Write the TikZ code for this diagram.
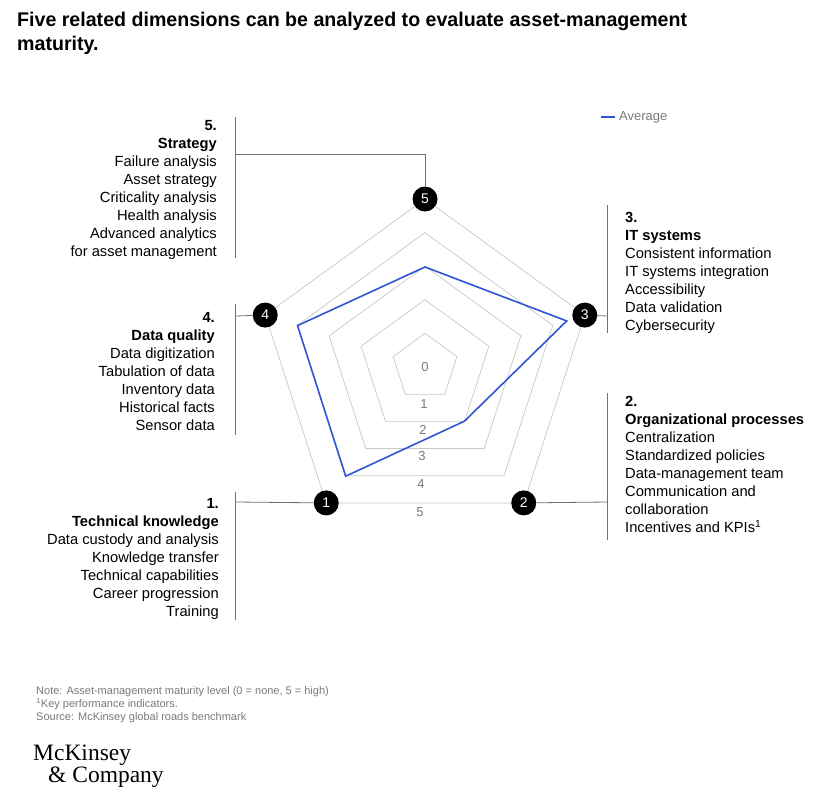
\documentclass[tikz,border=0pt]{standalone}
\usepackage{fontspec}
\usetikzlibrary{calc}
\setmainfont{Liberation Sans}
\newfontfamily\logofont{Liberation Serif}
\definecolor{avg}{HTML}{2F55D4}
\definecolor{grid}{HTML}{C8C8C8}
\definecolor{lead}{HTML}{707070}
\definecolor{note}{HTML}{7A7A7A}
\begin{document}
\begin{tikzpicture}[x=1pt,y=-1pt,
  body/.style={font=\fontsize{14.7}{18}\selectfont,inner sep=0pt,anchor=north},
  axisdot/.style={circle,fill=black,minimum size=25pt,inner sep=0pt,text=white,font=\fontsize{14}{14}\selectfont},
  lvl/.style={text=note,font=\fontsize{13}{13}\selectfont,inner sep=0pt},
  leader/.style={draw=lead,line width=0.8pt},
  gridline/.style={draw=grid,line width=0.7pt}]
\useasboundingbox (0,0) rectangle (835,803);
\fill[white] (0,0) rectangle (835,803);
\coordinate (c) at (425,367);
% title
\node[anchor=north west,inner sep=0pt,align=left,font=\bfseries\fontsize{19.8}{24}\selectfont,xscale=0.99] (title) at (17,12) {Five related dimensions can be analyzed to evaluate asset-management\\maturity.};
% grid
\foreach \k in {1,...,5}{
  \draw[gridline] ($(c)+(-90:33.6*\k)$) -- ($(c)+(-18:33.6*\k)$) -- ($(c)+(54:33.6*\k)$) -- ($(c)+(126:33.6*\k)$) -- ($(c)+(198:33.6*\k)$) -- cycle;
}
% level labels
\node[lvl] (l0) at (425,367) {0};
\node[lvl] (l1) at (424,404) {1};
\node[lvl] (l2) at (423,430) {2};
\node[lvl] (l3) at (422,456) {3};
\node[lvl] (l4) at (421,484) {4};
\node[lvl] (l5) at (420,512) {5};
% average
\draw[avg,line width=1.6pt,line join=miter] ($(c)+(-90:100)$) -- ($(c)+(-18:149)$) -- ($(c)+(54:67)$) -- ($(c)+(126:135)$) -- ($(c)+(198:134)$) -- cycle;
% axis dots
\node[axisdot] (d5) at ($(c)+(-90:168)$) {5};
\node[axisdot] (d3) at ($(c)+(-18:168)$) {3};
\node[axisdot] (d2) at ($(c)+(54:168)$) {2};
\node[axisdot] (d1) at ($(c)+(126:168)$) {1};
\node[axisdot] (d4) at ($(c)+(198:168)$) {4};
% leaders
\coordinate (s5) at (235,154);
\draw[leader] (235,117) -- (235,258);
\draw[leader] (s5) -| (d5);
\draw[leader] (235,304) -- (235,435);
\coordinate (s4) at (235,316);
\draw[leader] (s4) -- (d4);
\draw[leader] (235,492) -- (235,620);
\coordinate (s1) at (235,502);
\draw[leader] (s1) -- (d1);
\draw[leader] (607,205) -- (607,333);
\coordinate (s3) at (607,316);
\draw[leader] (d3) -- (s3);
\draw[leader] (607,393) -- (607,540);
\coordinate (s2) at (607,502);
\draw[leader] (d2) -- (s2);
% text blocks
\node[body,anchor=north east,align=right] (t5) at (217,120) {\textbf{5.}\\\textbf{Strategy}\\Failure analysis\\Asset strategy\\Criticality analysis\\Health analysis\\Advanced analytics\\for asset management};
\node[body,anchor=north east,align=right] (t4) at (215,312) {\textbf{4.}\\\textbf{Data quality}\\Data digitization\\Tabulation of data\\Inventory data\\Historical facts\\Sensor data};
\node[body,anchor=north east,align=right] (t1) at (219,498) {\textbf{1.}\\\textbf{Technical knowledge}\\Data custody and analysis\\Knowledge transfer\\Technical capabilities\\Career progression\\Training};
\node[body,anchor=north west,align=left] (t3) at (625,212) {\textbf{3.}\\\textbf{IT systems}\\Consistent information\\IT systems integration\\Accessibility\\Data validation\\Cybersecurity};
\node[body,anchor=north west,align=left] (t2) at (625,396) {\textbf{2.}\\\textbf{Organizational processes}\\Centralization\\Standardized policies\\Data-management team\\Communication and\\collaboration\\Incentives and KPIs\textsuperscript{1}};
% legend
\coordinate (la) at (601,117);
\coordinate (lb) at (615,117);
\draw[avg,line width=1.6pt] (la) -- (lb);
\node[anchor=west,inner sep=0pt,text=note,font=\fontsize{13}{13}\selectfont] (legend) at (619,117) {Average};
% notes
\node[anchor=north west,inner sep=0pt,align=left,text=note,font=\fontsize{11}{13}\selectfont] (notes) at (36,686) {Note: Asset-management maturity level (0 = none, 5 = high)\\\textsuperscript{1}Key performance indicators.\\Source: McKinsey global roads benchmark};
% logo
\node[anchor=north west,inner sep=0pt,align=left,font=\logofont\fontsize{23.5}{22}\selectfont] (logo) at (33,745) {McKinsey\\\hspace*{15pt}\& Company};
\end{tikzpicture}
\end{document}
